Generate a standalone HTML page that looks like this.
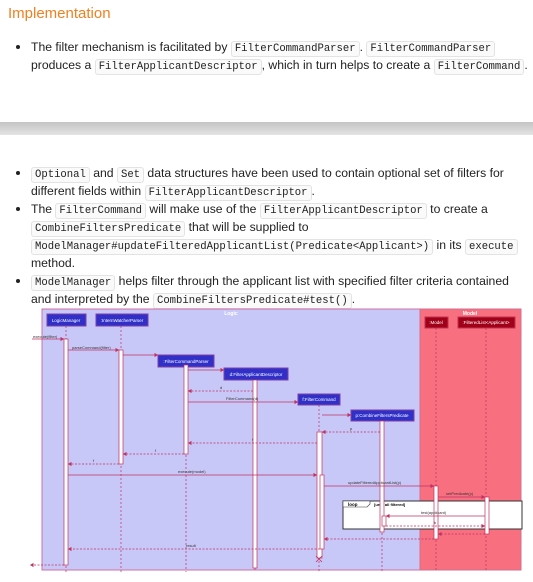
<!DOCTYPE html>
<html><head><meta charset="utf-8"><style>
body{margin:0;width:533px;height:582px;background:#fff;position:relative;overflow:hidden;font-family:"Liberation Sans",sans-serif;color:#222}
.l{position:absolute;left:31px;white-space:nowrap;font-size:12.2px;line-height:18px}
.b{position:absolute;left:16px;width:4px;height:4px;border-radius:50%;background:#222}
code{font-family:"Liberation Mono",monospace;font-size:10.6px;border:1px solid #e3e3e3;border-radius:3px;padding:1px 3px;background:#fafafa}
h3{position:absolute;left:8px;top:5px;margin:0;font-weight:normal;font-size:15px;color:#f08020}
.bar{position:absolute;left:0;top:122px;width:533px;height:13px;background:linear-gradient(#c4c4c4,#e4e4e4)}
svg{position:absolute;left:0;top:0}
</style></head><body>
<h3>Implementation</h3>
<div class="b" style="top:45px"></div>
<div class="l" style="top:38px">The filter mechanism is facilitated by <code>FilterCommandParser</code>. <code>FilterCommandParser</code></div>
<div class="l" style="top:56px">produces a <code>FilterApplicantDescriptor</code>, which in turn helps to create a <code>FilterCommand</code>.</div>
<div class="bar"></div>
<div class="b" style="top:171px"></div>
<div class="l" style="top:164px"><code>Optional</code> and <code>Set</code> data structures have been used to contain optional set of filters for</div>
<div class="l" style="top:182px">different fields within <code>FilterApplicantDescriptor</code>.</div>
<div class="b" style="top:207px"></div>
<div class="l" style="top:200px">The <code>FilterCommand</code> will make use of the <code>FilterApplicantDescriptor</code> to create a</div>
<div class="l" style="top:218px"><code>CombineFiltersPredicate</code> that will be supplied to</div>
<div class="l" style="top:236px"><code>ModelManager#updateFilteredApplicantList(Predicate&lt;Applicant&gt;)</code> in its <code>execute</code></div>
<div class="l" style="top:254px">method.</div>
<div class="b" style="top:279px"></div>
<div class="l" style="top:272px"><code>ModelManager</code> helps filter through the applicant list with specified filter criteria contained</div>
<div class="l" style="top:290px">and interpreted by the <code>CombineFiltersPredicate#test()</code>.</div>

<svg width="533" height="582" font-family="Liberation Sans,sans-serif" font-size="5">
<defs><marker id="a" markerWidth="6" markerHeight="6" refX="5" refY="3" orient="auto"><path d="M0,0L5,3L0,6z" fill="#c03060"/></marker></defs>
<rect x="42" y="309" width="378" height="261" fill="#c8c8f8" stroke="#d070a0"/>
<rect x="420" y="309" width="101" height="261" fill="#f87080" stroke="#d07090"/>
<text x="231" y="315" fill="#fff" font-weight="bold" text-anchor="middle">Logic</text>
<text x="470" y="315" fill="#fff" font-weight="bold" text-anchor="middle">Model</text>
<g stroke="#c03060" stroke-width="0.7" stroke-dasharray="2,2">
<line x1="66" y1="326" x2="66" y2="572"/><line x1="121" y1="326" x2="121" y2="572"/>
<line x1="186" y1="367" x2="186" y2="572"/><line x1="255" y1="380" x2="255" y2="572"/>
<line x1="319" y1="405" x2="319" y2="572"/><line x1="382" y1="421" x2="382" y2="572"/>
<line x1="436" y1="328" x2="436" y2="572"/><line x1="486" y1="328" x2="486" y2="572"/>
</g>
<g fill="#3030c8" stroke="#8040a0">
<rect x="47" y="314" width="39" height="12"/><rect x="96" y="314" width="52" height="12"/>
<rect x="158" y="355" width="56" height="12"/><rect x="224" y="368" width="64" height="12"/>
<rect x="298" y="394" width="42" height="11"/><rect x="351" y="410" width="63" height="11"/>
</g>
<g fill="#a00018" stroke="#c03050"><rect x="425" y="317" width="23" height="11"/><rect x="458" y="317" width="57" height="11"/></g>
<g fill="#fff" font-size="4.5">
<text x="66" y="322" text-anchor="middle">LogicManager</text><text x="122" y="322" text-anchor="middle">:InternWatcherParser</text>
<text x="186" y="363" text-anchor="middle">:FilterCommandParser</text><text x="256" y="376" text-anchor="middle">d:FilterApplicantDescriptor</text>
<text x="319" y="401" text-anchor="middle">f:FilterCommand</text><text x="382" y="417" text-anchor="middle">p:CombineFiltersPredicate</text>
<text x="436" y="324" text-anchor="middle">:Model</text><text x="486" y="324" text-anchor="middle">:FilteredList&lt;Applicant&gt;</text>
</g>
<rect x="343" y="501" width="179" height="28" fill="#fff" stroke="#333" stroke-width="1"/>
<path d="M343,501h27v3l-3,3h-24z" fill="#fff" stroke="#333" stroke-width="0.6"/>
<text x="348" y="506" font-size="4.5" font-weight="bold">loop</text><text x="374" y="506" font-size="4" font-weight="bold">[until all filtered]</text>
<g fill="#fff" stroke="#c03060" stroke-width="0.7">
<rect x="64" y="339" width="4" height="226"/><rect x="119" y="350" width="4" height="114"/>
<rect x="184" y="365" width="4" height="89"/><rect x="253" y="380" width="4" height="188"/>
<rect x="317" y="432" width="5" height="126"/><rect x="320" y="475" width="4" height="74"/>
<rect x="380" y="421" width="4" height="111"/><rect x="382" y="516" width="4" height="10"/>
<rect x="434" y="486" width="4" height="53"/><rect x="485" y="497" width="4" height="37"/>
</g>
<path d="M316,556l6,6M322,556l-6,6" stroke="#c03060" stroke-width="0.8"/>
<g stroke="#c03060" stroke-width="0.7" marker-end="url(#a)">
<line x1="32" y1="339" x2="64" y2="339"/><line x1="68" y1="350" x2="119" y2="350"/>
<line x1="123" y1="355" x2="158" y2="355"/><line x1="188" y1="370" x2="224" y2="370"/>
<line x1="188" y1="402" x2="298" y2="402"/><line x1="322" y1="415" x2="351" y2="415"/>
<line x1="68" y1="475" x2="317" y2="475"/><line x1="324" y1="486" x2="434" y2="486"/>
<line x1="438" y1="497" x2="485" y2="497"/><line x1="485" y1="516" x2="386" y2="516"/>
<g stroke-dasharray="2,1.5">
<line x1="253" y1="391" x2="188" y2="391"/><line x1="380" y1="432" x2="322" y2="432"/>
<line x1="317" y1="443" x2="188" y2="443"/><line x1="184" y1="454" x2="123" y2="454"/>
<line x1="119" y1="464" x2="68" y2="464"/><line x1="386" y1="526" x2="485" y2="526"/>
<line x1="485" y1="534" x2="438" y2="534"/><line x1="434" y1="539" x2="324" y2="539"/>
<line x1="320" y1="549" x2="68" y2="549"/><line x1="64" y1="565" x2="30" y2="565"/>
</g></g>
<g fill="#333" font-size="4">
<text x="33" y="338">execute(filter)</text><text x="72" y="349">parseCommand(filter)</text>
<text x="220" y="389">d</text><text x="226" y="400">FilterCommand(d)</text>
<text x="350" y="430">p</text><text x="252" y="441">f</text><text x="155" y="452">f</text><text x="93" y="462">f</text>
<text x="178" y="473">execute(model)</text><text x="348" y="484">updateFilteredApplicantList(p)</text>
<text x="446" y="495">setPredicate(p)</text><text x="421" y="514">test(applicant)</text>
<text x="434" y="524">b</text><text x="186" y="547">result</text>
</g>
</svg>
</body></html>
